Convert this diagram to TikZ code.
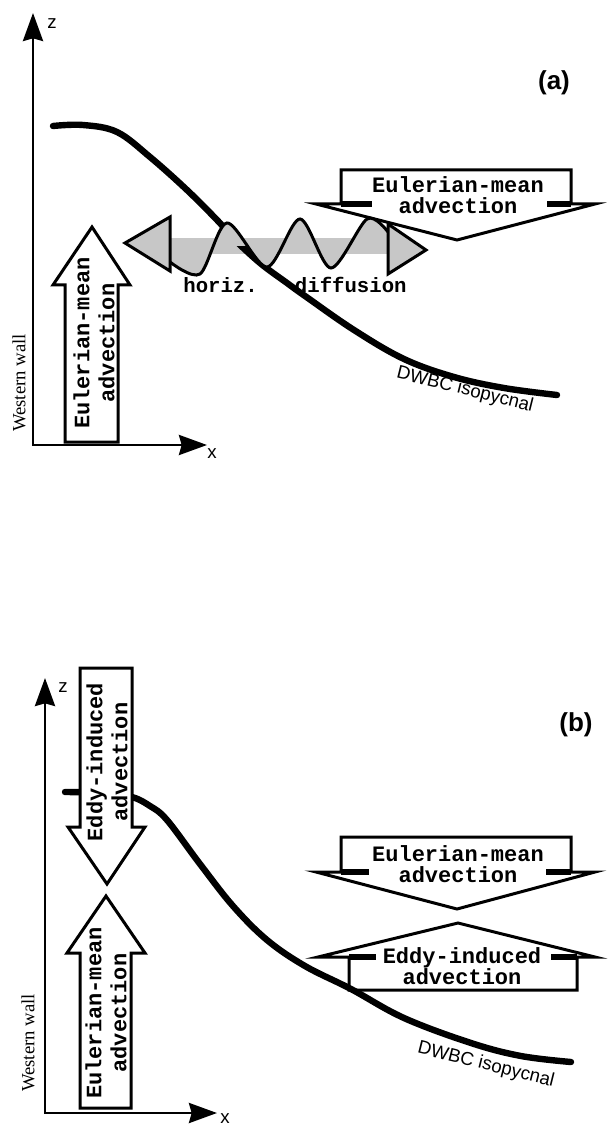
\documentclass[tikz,border=0pt]{standalone}
\usepackage{fontspec}
\setmainfont{Liberation Serif}
\setsansfont{Liberation Sans}
\setmonofont{Liberation Mono}
\usetikzlibrary{arrows.meta}
\tikzset{axtip/.tip={Stealth[length=21pt, width=15pt, inset=2pt]}}
\begin{document}
\begin{tikzpicture}[x=0.75pt, y=-0.75pt,
  axis/.style={line width=2.2pt, line join=miter, axtip-axtip},
  blk/.style={line width=2.25pt, line join=miter, fill=white},
  stub/.style={line width=4.5pt},
  iso/.style={line width=4.8pt, line cap=round},
  shade/.style={fill=black!22},
  hlbl/.style={font=\ttfamily\bfseries\fontsize{16.5}{16}\selectfont, align=center, inner sep=0pt},
  vlbl/.style={font=\ttfamily\bfseries\fontsize{16.5}{18.75}\selectfont, align=center, inner sep=0pt, rotate=90},
  axlbl/.style={font=\sffamily\fontsize{14}{16}\selectfont, inner sep=0pt},
  wall/.style={font=\fontsize{14}{16}\selectfont, rotate=90, inner sep=0pt},
  panel/.style={font=\sffamily\bfseries\fontsize{19.5}{22}\selectfont, inner sep=0pt},
  isolbl/.style={font=\sffamily\fontsize{14}{16}\selectfont, rotate=-14, inner sep=0pt}]
\useasboundingbox (0,0) rectangle (609,1126);
% panel (a)
\coordinate (za) at (33,13);
\coordinate (oa) at (33,445);
\coordinate (xa) at (207,445);
\draw[axis] (za) -- (oa) -- (xa);
\node[axlbl] (zla) at (52,24) {z};
\node[axlbl] (xla) at (212,454) {x};
\node[wall] (walla) at (19,383) {Western wall};
\node[panel] (pa) at (554,83) {(a)};
\draw[blk] (341,204) -- (341,170) -- (571,170) -- (571,204) -- (595,204) -- (457,240) -- (316,204) -- cycle;
\draw[stub] (341,204) -- (372,204);
\draw[stub] (547,204) -- (571,204);
\node[hlbl] (ema) at (458,195) {Eulerian-mean\\advection};
\draw[blk] (65,442) -- (118,442) -- (118,285) -- (130,285) -- (92,227) -- (53,285) -- (65,285) -- cycle;
\node[vlbl] (emva) at (94,343) {Eulerian-mean\\advection};
\fill[shade] (170,238) rectangle (388,254);
\draw[iso] plot[smooth, tension=0.6] coordinates {(53,126) (83,125) (117,132) (150,157) (187,190) (218,221) (233,238) (260,263) (287,283) (305,296) (354,330) (404,359) (454,377) (504,388) (557,395)};
\fill[shade] plot[smooth] coordinates {(170,262) (200,274) (227,223) (267,267) (300,219) (331,268) (367,219) (388,232)} -- (388,246) -- (170,246) -- cycle;
\draw[blk, fill=black!22] (125,243) -- (170,217) -- (170,271) -- cycle;
\draw[blk, fill=black!22] (388,224) -- (426,250) -- (388,274) -- cycle;
\draw[line width=2.25pt] plot[smooth] coordinates {(170,262) (200,274) (227,223) (267,267) (300,219) (331,268) (367,219) (388,232)};
\node[font=\ttfamily\bfseries\fontsize{15.5}{17}\selectfont, anchor=base, inner sep=0pt] (hd) at (295,293) {horiz.\ \ \ diffusion};
\node[isolbl] (isoa) at (465,390) {DWBC isopycnal};
% panel (b)
\coordinate (zb) at (45,678);
\coordinate (ob) at (45,1113);
\coordinate (xb) at (217,1113);
\draw[axis] (zb) -- (ob) -- (xb);
\node[axlbl] (zlb) at (63,688) {z};
\node[axlbl] (xlb) at (225,1119) {x};
\node[wall] (wallb) at (28,1043) {Western wall};
\node[panel] (pb) at (576,725) {(b)};
\draw[blk] (341,872) -- (341,837) -- (571,837) -- (571,872) -- (595,872) -- (457,909) -- (316,872) -- cycle;
\draw[stub] (341,872) -- (369,872);
\draw[stub] (546,872) -- (571,872);
\node[hlbl] (emb) at (458,864) {Eulerian-mean\\advection};
\draw[blk] (349,957) -- (349,990) -- (577,990) -- (577,957) -- (595,957) -- (458,923) -- (318,957) -- cycle;
\draw[stub] (349,957) -- (376,957);
\draw[stub] (551,957) -- (577,957);
\node[hlbl] (eib) at (462,966) {Eddy-induced\\advection};
\draw[iso] plot[smooth, tension=0.6] coordinates {(65,792) (105,793) (132,797) (150,806) (167,820) (200,864) (233,906) (267,940) (305,966) (351,989) (404,1018) (471,1043) (521,1056) (571,1062)};
\draw[blk] (80,668) -- (132,668) -- (132,827) -- (145,827) -- (107,884) -- (68,827) -- (80,827) -- cycle;
\node[vlbl] (eivb) at (107,762) {Eddy-induced\\advection};
\draw[blk] (80,1108) -- (131,1108) -- (131,953) -- (145,953) -- (106,896) -- (67,953) -- (80,953) -- cycle;
\node[vlbl] (emvb) at (106,1013) {Eulerian-mean\\advection};
\node[isolbl] (isob) at (486,1065) {DWBC isopycnal};
\end{tikzpicture}
\end{document}
